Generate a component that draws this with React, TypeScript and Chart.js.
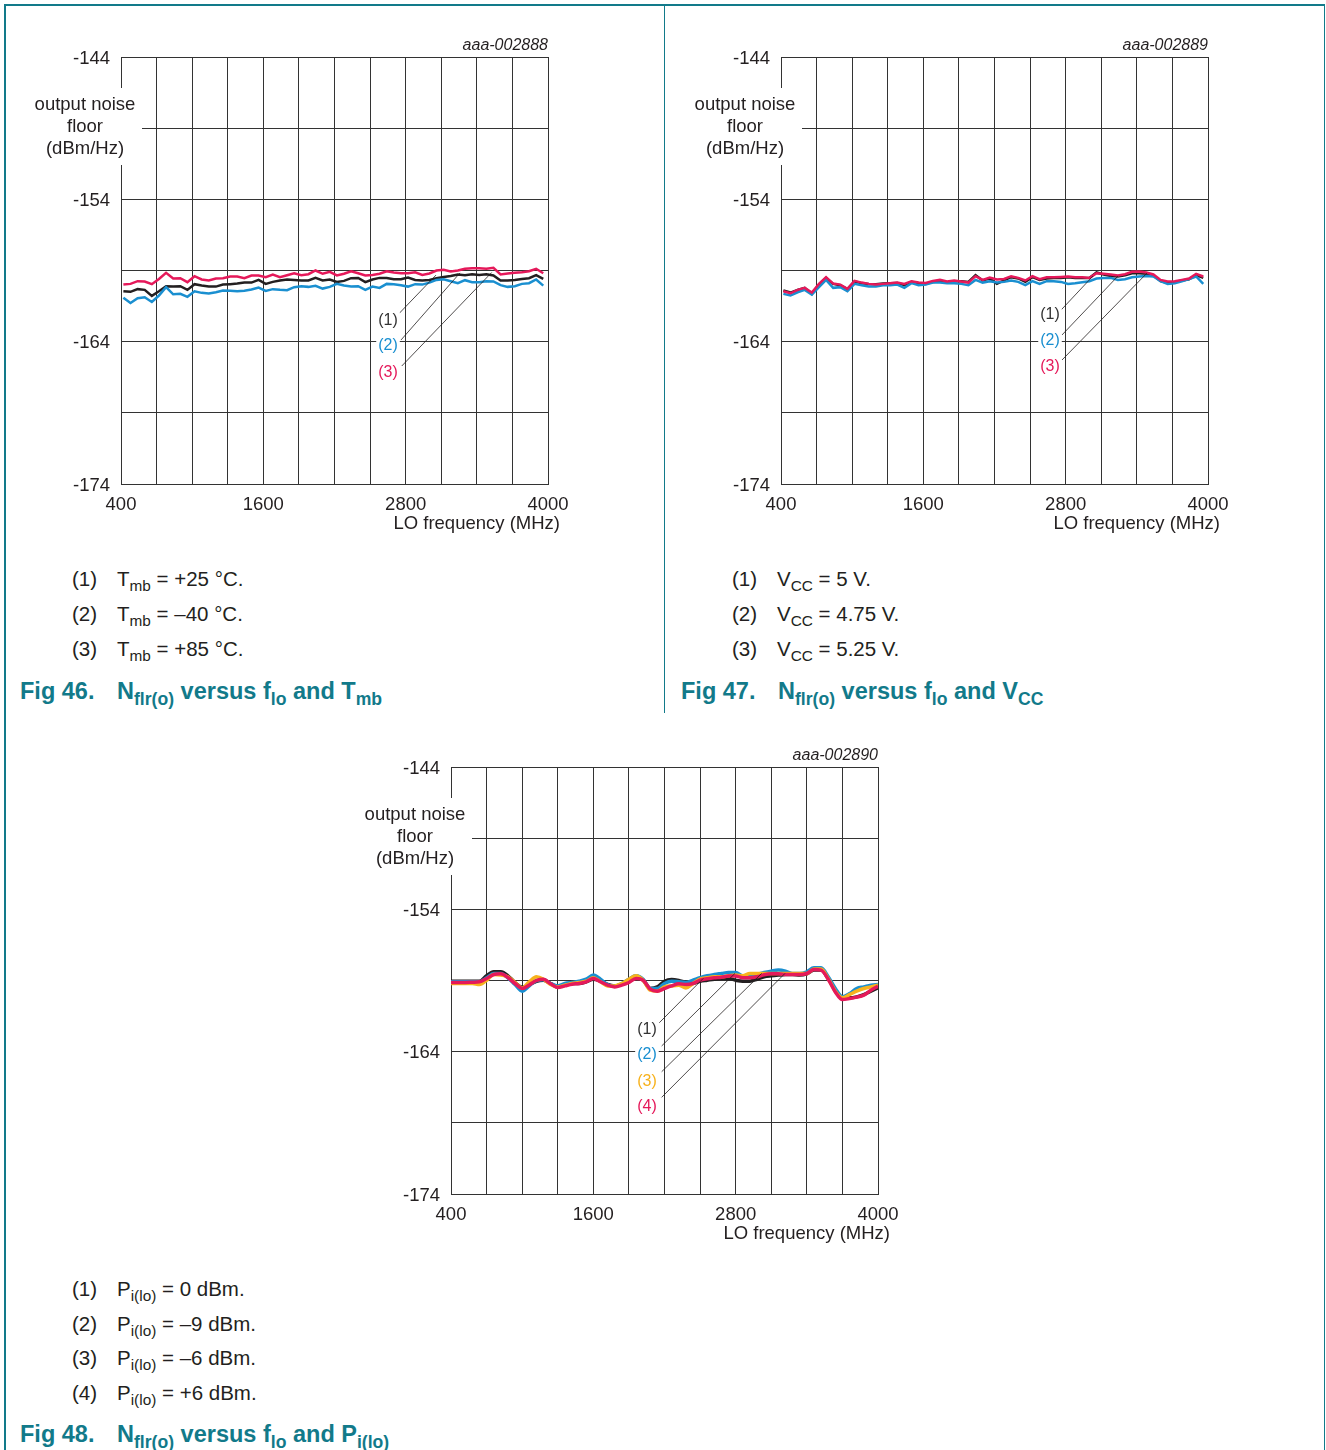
import React, { useEffect, useRef } from 'react';
import { Chart, registerables } from 'chart.js';

Chart.register(...registerables);

const FONT = '"Liberation Sans", Arial, Helvetica, sans-serif';
const TEAL = '#127a8a';
const BLACK = '#231f20';
const BLUE = '#1a8fd0';
const RED = '#e5195a';
const ORANGE = '#f7b21d';
const GRID = '#333333';

// ---------- data ----------
const freqJagged = [420, 480, 540, 600, 660, 720, 780, 840, 900, 960, 1020, 1080, 1140, 1200, 1260, 1320, 1380, 1440, 1500, 1560, 1620, 1680, 1740, 1800, 1860, 1920, 1980, 2040, 2100, 2160, 2220, 2280, 2340, 2400, 2460, 2520, 2580, 2640, 2700, 2760, 2820, 2880, 2940, 3000, 3060, 3120, 3180, 3240, 3300, 3360, 3420, 3480, 3540, 3600, 3660, 3720, 3780, 3840, 3900, 3960];

const freqSmooth = [400, 460, 520, 580, 640, 700, 760, 820, 880, 940, 1000, 1060, 1120, 1180, 1240, 1300, 1360, 1420, 1480, 1540, 1600, 1660, 1720, 1780, 1840, 1900, 1960, 2020, 2080, 2140, 2200, 2260, 2320, 2380, 2440, 2500, 2560, 2620, 2680, 2740, 2800, 2860, 2920, 2980, 3040, 3100, 3160, 3220, 3280, 3340, 3400, 3460, 3520, 3580, 3640, 3700, 3760, 3820, 3880, 3940, 4000];

const xTickLabels = [400, 1600, 2800, 4000];
const yTickLabels = [-144, -154, -164, -174];

// Fig 46: Tmb
const fig46Tmb25 = [-160.46, -160.50, -160.31, -160.36, -160.78, -160.46, -160.10, -160.13, -160.10, -160.36,
  -159.96, -160.06, -160.13, -160.13, -159.99, -159.96, -159.92, -159.85, -159.85, -159.66,
  -159.94, -159.80, -159.70, -159.63, -159.66, -159.70, -159.70, -159.52, -159.70, -159.63,
  -159.80, -159.73, -159.54, -159.52, -159.82, -159.63, -159.52, -159.52, -159.61, -159.61,
  -159.49, -159.66, -159.70, -159.66, -159.54, -159.45, -159.38, -159.28, -159.33, -159.26,
  -159.31, -159.26, -159.35, -159.70, -159.70, -159.66, -159.59, -159.54, -159.33, -159.59];
const fig46TmbM40 = [-160.92, -161.28, -160.95, -160.88, -161.21, -160.76, -160.17, -160.67, -160.64, -160.85,
  -160.46, -160.57, -160.62, -160.53, -160.41, -160.43, -160.46, -160.43, -160.34, -160.20,
  -160.43, -160.31, -160.36, -160.38, -160.17, -160.10, -160.15, -160.08, -160.27, -160.15,
  -159.94, -160.06, -160.13, -160.10, -160.36, -160.13, -160.22, -159.94, -159.96, -160.03,
  -160.13, -159.96, -159.99, -159.85, -159.66, -159.61, -159.75, -159.89, -159.68, -159.82,
  -159.82, -159.75, -159.77, -160.03, -160.15, -160.10, -159.94, -159.89, -159.63, -160.06];
const fig46Tmb85 = [-159.99, -159.94, -159.75, -159.77, -159.96, -159.59, -159.16, -159.56, -159.54, -159.82,
  -159.40, -159.63, -159.70, -159.56, -159.54, -159.42, -159.42, -159.54, -159.35, -159.35,
  -159.47, -159.28, -159.47, -159.33, -159.19, -159.33, -159.26, -159.00, -159.23, -159.09,
  -159.35, -159.23, -159.05, -159.19, -159.35, -159.31, -159.23, -159.05, -159.14, -159.19,
  -159.19, -159.12, -159.31, -159.21, -159.00, -158.95, -159.07, -159.00, -158.88, -158.84,
  -158.84, -158.88, -158.81, -159.28, -159.21, -159.16, -159.12, -159.05, -158.88, -159.19];

// Fig 47: VCC
const fig47Vcc500 = [-160.41, -160.55, -160.36, -160.22, -160.64, -159.99, -159.52, -159.94, -160.03, -160.31,
  -159.77, -159.89, -159.94, -159.96, -159.92, -159.89, -159.87, -160.03, -159.80, -159.89,
  -159.94, -159.80, -159.75, -159.85, -159.75, -159.75, -159.80, -159.33, -159.70, -159.56,
  -159.94, -159.70, -159.47, -159.56, -159.80, -159.47, -159.66, -159.56, -159.52, -159.52,
  -159.47, -159.52, -159.52, -159.52, -159.14, -159.28, -159.38, -159.42, -159.33, -159.19,
  -159.19, -159.23, -159.35, -159.75, -159.87, -159.80, -159.70, -159.61, -159.33, -159.52];
const fig47Vcc475 = [-160.64, -160.76, -160.53, -160.36, -160.69, -160.17, -159.66, -160.22, -160.17, -160.46,
  -159.94, -160.03, -160.13, -160.13, -160.03, -160.03, -159.99, -160.22, -159.89, -160.03,
  -159.99, -159.85, -159.85, -159.89, -159.89, -159.94, -160.03, -159.66, -159.85, -159.75,
  -159.85, -159.80, -159.70, -159.80, -160.03, -159.75, -159.94, -159.75, -159.75, -159.80,
  -159.94, -159.89, -159.82, -159.75, -159.56, -159.52, -159.52, -159.66, -159.61, -159.47,
  -159.42, -159.38, -159.42, -159.75, -159.94, -159.89, -159.75, -159.61, -159.42, -159.94];
const fig47Vcc525 = [-160.46, -160.60, -160.36, -160.22, -160.55, -159.94, -159.47, -159.92, -159.99, -160.29,
  -159.73, -159.85, -159.94, -159.99, -159.94, -159.89, -159.85, -159.94, -159.75, -159.85,
  -159.87, -159.73, -159.66, -159.77, -159.70, -159.77, -159.85, -159.40, -159.66, -159.49,
  -159.63, -159.59, -159.40, -159.52, -159.70, -159.40, -159.61, -159.47, -159.47, -159.45,
  -159.42, -159.47, -159.47, -159.52, -159.19, -159.23, -159.28, -159.35, -159.26, -159.09,
  -159.07, -159.14, -159.28, -159.66, -159.77, -159.75, -159.66, -159.56, -159.23, -159.42];

// Fig 48: Pi(lo)
const fig48P0 = [-159.05, -159.05, -159.05, -159.05, -159.05, -158.67, -158.39, -158.39, -158.67, -159.14,
  -159.47, -159.28, -159.05, -158.98, -159.21, -159.45, -159.33, -159.21, -159.21, -159.09,
  -158.91, -159.05, -159.28, -159.38, -159.28, -158.98, -158.74, -158.98, -159.56, -159.45,
  -159.05, -158.93, -159.00, -159.14, -159.21, -159.05, -158.98, -158.91, -158.86, -158.86,
  -158.98, -159.05, -159.05, -158.91, -158.74, -158.67, -158.62, -158.58, -158.58, -158.62,
  -158.53, -158.27, -158.27, -158.86, -159.68, -160.22, -160.22, -160.15, -159.99, -159.75, -159.52];
const fig48PM9 = [-159.09, -159.09, -159.09, -159.09, -159.09, -158.81, -158.51, -158.51, -158.81, -159.28,
  -159.75, -159.38, -159.00, -158.95, -159.21, -159.38, -159.21, -159.14, -159.05, -158.91,
  -158.62, -158.91, -159.28, -159.40, -159.21, -158.91, -158.67, -158.91, -159.56, -159.56,
  -159.21, -159.05, -159.09, -159.14, -158.98, -158.81, -158.67, -158.58, -158.51, -158.44,
  -158.44, -158.67, -158.67, -158.58, -158.44, -158.34, -158.27, -158.34, -158.51, -158.51,
  -158.39, -158.11, -158.11, -158.74, -159.56, -160.15, -159.92, -159.56, -159.45, -159.33, -159.28];
const fig48PM6 = [-159.21, -159.21, -159.21, -159.21, -159.28, -158.98, -158.58, -158.62, -158.74, -159.14,
  -159.52, -159.09, -158.74, -158.91, -159.28, -159.45, -159.33, -159.21, -159.14, -159.05,
  -158.81, -159.09, -159.38, -159.38, -159.21, -158.91, -158.67, -158.98, -159.68, -159.75,
  -159.45, -159.38, -159.33, -159.52, -159.21, -158.91, -158.81, -158.74, -158.74, -158.67,
  -158.62, -158.67, -158.51, -158.51, -158.51, -158.51, -158.51, -158.51, -158.51, -158.51,
  -158.51, -158.20, -158.20, -158.86, -159.75, -160.22, -159.99, -159.75, -159.56, -159.45, -159.33];
const fig48P6 = [-159.14, -159.14, -159.14, -159.12, -159.09, -158.86, -158.58, -158.53, -158.79, -159.21,
  -159.56, -159.31, -159.00, -158.91, -159.23, -159.49, -159.38, -159.26, -159.21, -159.09,
  -158.86, -159.09, -159.33, -159.45, -159.33, -159.14, -158.86, -158.98, -159.61, -159.75,
  -159.56, -159.38, -159.23, -159.28, -159.21, -158.98, -158.88, -158.81, -158.77, -158.69,
  -158.69, -158.81, -158.81, -158.74, -158.60, -158.53, -158.53, -158.58, -158.58, -158.58,
  -158.51, -158.23, -158.27, -158.91, -159.80, -160.34, -160.27, -160.17, -160.03, -159.68, -159.40];

// annotation callouts (data units: MHz, dBm/Hz)
type Note = { text: string; color: string; lx: number; ly: number; x1: number; y1: number; x2: number; y2: number };
const fig46Notes: Note[] = [
  { text: '(1)', color: '#333333', lx: 2651, ly: -162.41, x1: 2746, y1: -162.01, x2: 3056, y2: -159.32 },
  { text: '(2)', color: BLUE, lx: 2651, ly: -164.16, x1: 2761, y1: -163.88, x2: 3258, y2: -159.17 },
  { text: '(3)', color: RED, lx: 2651, ly: -166.06, x1: 2767, y1: -165.71, x2: 3525, y2: -159.14 },
];
const fig47Notes: Note[] = [
  { text: '(1)', color: '#333333', lx: 2668, ly: -161.99, x1: 2761, y1: -161.78, x2: 3030, y2: -159.39 },
  { text: '(2)', color: BLUE, lx: 2668, ly: -163.81, x1: 2769, y1: -163.53, x2: 3241, y2: -159.39 },
  { text: '(3)', color: RED, lx: 2668, ly: -165.64, x1: 2769, y1: -165.29, x2: 3486, y2: -159.18 },
];
const fig48Notes: Note[] = [
  { text: '(1)', color: '#333333', lx: 2052, ly: -162.34, x1: 2156, y1: -161.97, x2: 2527, y2: -158.85 },
  { text: '(2)', color: BLUE, lx: 2052, ly: -164.09, x1: 2176, y1: -163.60, x2: 2794, y2: -158.50 },
  { text: '(3)', color: ORANGE, lx: 2052, ly: -165.99, x1: 2176, y1: -165.41, x2: 3019, y2: -158.50 },
  { text: '(4)', color: RED, lx: 2052, ly: -167.75, x1: 2176, y1: -167.21, x2: 3216, y2: -158.50 },
];

type Series = { data: number[]; color: string };

type PanelProps = {
  left: number;
  top: number;
  xs: number[];
  series: Series[];
  notes: Note[];
  code: string;
  smooth: boolean;
  lineWidth: number;
};

function ChartPanel({ left, top, xs, series, notes, code, smooth, lineWidth }: PanelProps) {
  const ref = useRef<HTMLCanvasElement>(null);
  useEffect(() => {
    if (!ref.current) return;
    const decor = {
      id: 'decor',
      afterDraw(chart: any) {
        const ctx = chart.ctx as CanvasRenderingContext2D;
        const { left: L, top: T, right: R, bottom: B } = chart.chartArea;
        const xS = chart.scales.x;
        const yS = chart.scales.y;
        ctx.save();
        // gap for y title
        ctx.fillStyle = '#ffffff';
        ctx.fillRect(L - 95, T + 31, 116, 77);
        ctx.fillStyle = '#231f20';
        ctx.font = `18.5px ${FONT}`;
        ctx.textAlign = 'center';
        ctx.textBaseline = 'middle';
        ctx.fillText('output noise', L - 36, T + 47.5);
        ctx.fillText('floor', L - 36, T + 69.5);
        ctx.fillText('(dBm/Hz)', L - 36, T + 91.5);
        // y ticks
        ctx.textAlign = 'right';
        yTickLabels.forEach((v) => ctx.fillText(String(v), L - 11, yS.getPixelForValue(v) + 1.5));
        // x ticks
        ctx.textAlign = 'center';
        xTickLabels.forEach((v) => ctx.fillText(String(v), xS.getPixelForValue(v), B + 20.5));
        // x title
        ctx.textAlign = 'right';
        ctx.fillText('LO frequency (MHz)', R + 12, B + 39.5);
        // code
        ctx.font = `italic 16px ${FONT}`;
        ctx.fillText(code, R, T - 11);
        // callouts
        ctx.strokeStyle = '#231f20';
        ctx.lineWidth = 0.8;
        notes.forEach((n) => {
          ctx.beginPath();
          ctx.moveTo(xS.getPixelForValue(n.x1), yS.getPixelForValue(n.y1));
          ctx.lineTo(xS.getPixelForValue(n.x2), yS.getPixelForValue(n.y2));
          ctx.stroke();
        });
        ctx.font = `16px ${FONT}`;
        ctx.textAlign = 'center';
        notes.forEach((n) => {
          const px = xS.getPixelForValue(n.lx);
          const py = yS.getPixelForValue(n.ly);
          const w = ctx.measureText(n.text).width;
          ctx.fillStyle = '#ffffff';
          ctx.fillRect(px - w / 2 - 2, py - 9, w + 4, 18);
          ctx.fillStyle = n.color;
          ctx.fillText(n.text, px, py + 1.5);
        });
        ctx.restore();
      },
    };
    const chart = new Chart(ref.current, {
      type: 'line',
      data: {
        datasets: series.map((s, i) => ({
          data: xs.map((x, j) => ({ x, y: s.data[j] })),
          borderColor: s.color,
          backgroundColor: s.color,
          borderWidth: lineWidth,
          pointRadius: 0,
          tension: smooth ? 0.4 : 0,
          cubicInterpolationMode: smooth ? 'monotone' : 'default',
          fill: false,
          order: series.length - i,
        })),
      },
      options: {
        animation: false,
        responsive: false,
        maintainAspectRatio: false,
        devicePixelRatio: 1,
        layout: { padding: { left: 117, top: 37, right: 116, bottom: 66 } },
        plugins: { legend: { display: false }, tooltip: { enabled: false } },
        scales: {
          x: {
            type: 'linear',
            min: 400,
            max: 4000,
            ticks: { stepSize: 300, display: false },
            grid: { color: GRID, lineWidth: 1, drawTicks: false },
            border: { display: true, color: GRID, width: 1 },
            afterFit: (s: any) => { s.height = 0; },
          },
          y: {
            type: 'linear',
            min: -174,
            max: -144,
            ticks: { stepSize: 5, display: false },
            grid: { color: GRID, lineWidth: 1, drawTicks: false },
            border: { display: true, color: GRID, width: 1 },
            afterFit: (s: any) => { s.width = 0; },
          },
        },
      } as any,
      plugins: [decor],
    });
    return () => chart.destroy();
  }, []);
  return (
    <canvas
      ref={ref}
      width={660}
      height={530}
      style={{ position: 'absolute', left, top, width: 660, height: 530 }}
    />
  );
}

const subStyle: React.CSSProperties = { fontSize: '0.75em', position: 'relative', top: '0.32em' };

function Sub({ children }: { children: React.ReactNode }) {
  return <span style={subStyle}>{children}</span>;
}

function LegendRow({ x, y, num, children }: { x: number; y: number; num: string; children: React.ReactNode }) {
  return (
    <div style={{ position: 'absolute', left: x, top: y - 13, height: 26, lineHeight: '26px', fontSize: 20.5, color: '#231f20', whiteSpace: 'nowrap' }}>
      <span style={{ position: 'absolute', left: 0 }}>{num}</span>
      <span style={{ position: 'absolute', left: 45 }}>{children}</span>
    </div>
  );
}

function Caption({ x, y, fig, children }: { x: number; y: number; fig: string; children: React.ReactNode }) {
  return (
    <div style={{ position: 'absolute', left: x, top: y - 15, height: 28, lineHeight: '28px', fontSize: 23.5, fontWeight: 'bold', color: TEAL, whiteSpace: 'nowrap' }}>
      <span style={{ position: 'absolute', left: 0 }}>{fig}</span>
      <span style={{ position: 'absolute', left: 97 }}>{children}</span>
    </div>
  );
}

export default function App() {
  return (
    <div style={{ position: 'absolute', left: 0, top: 0, width: 1326, height: 1450, background: '#ffffff', fontFamily: FONT, overflow: 'hidden' }}>
      {/* frame */}
      <div style={{ position: 'absolute', left: 4, top: 4, width: 1321, height: 1.5, background: TEAL }} />
      <div style={{ position: 'absolute', left: 4, top: 4, width: 1.5, height: 1446, background: TEAL }} />
      <div style={{ position: 'absolute', left: 1323.5, top: 4, width: 1.5, height: 1446, background: TEAL }} />
      <div style={{ position: 'absolute', left: 663.5, top: 4, width: 1.5, height: 709, background: TEAL }} />

      <ChartPanel left={4} top={20} xs={freqJagged} code="aaa-002888" smooth={false} lineWidth={2.5}
        series={[{ data: fig46Tmb25, color: BLACK }, { data: fig46TmbM40, color: BLUE }, { data: fig46Tmb85, color: RED }]}
        notes={fig46Notes} />
      <ChartPanel left={664} top={20} xs={freqJagged} code="aaa-002889" smooth={false} lineWidth={2.5}
        series={[{ data: fig47Vcc500, color: BLACK }, { data: fig47Vcc475, color: BLUE }, { data: fig47Vcc525, color: RED }]}
        notes={fig47Notes} />
      <ChartPanel left={334} top={730} xs={freqSmooth} code="aaa-002890" smooth={true} lineWidth={3.5}
        series={[{ data: fig48P0, color: BLACK }, { data: fig48PM9, color: BLUE }, { data: fig48PM6, color: ORANGE }, { data: fig48P6, color: RED }]}
        notes={fig48Notes} />

      {/* Fig 46 legend */}
      <LegendRow x={72} y={579} num="(1)">T<Sub>mb</Sub> = +25 °C.</LegendRow>
      <LegendRow x={72} y={614} num="(2)">T<Sub>mb</Sub> = –40 °C.</LegendRow>
      <LegendRow x={72} y={649} num="(3)">T<Sub>mb</Sub> = +85 °C.</LegendRow>
      <Caption x={20} y={692} fig="Fig 46.">N<Sub>flr(o)</Sub> versus f<Sub>lo</Sub> and T<Sub>mb</Sub></Caption>

      {/* Fig 47 legend */}
      <LegendRow x={732} y={579} num="(1)">V<Sub>CC</Sub> = 5 V.</LegendRow>
      <LegendRow x={732} y={614} num="(2)">V<Sub>CC</Sub> = 4.75 V.</LegendRow>
      <LegendRow x={732} y={649} num="(3)">V<Sub>CC</Sub> = 5.25 V.</LegendRow>
      <Caption x={681} y={692} fig="Fig 47.">N<Sub>flr(o)</Sub> versus f<Sub>lo</Sub> and V<Sub>CC</Sub></Caption>

      {/* Fig 48 legend */}
      <LegendRow x={72} y={1289} num="(1)">P<Sub>i(lo)</Sub> = 0 dBm.</LegendRow>
      <LegendRow x={72} y={1324} num="(2)">P<Sub>i(lo)</Sub> = –9 dBm.</LegendRow>
      <LegendRow x={72} y={1358} num="(3)">P<Sub>i(lo)</Sub> = –6 dBm.</LegendRow>
      <LegendRow x={72} y={1393} num="(4)">P<Sub>i(lo)</Sub> = +6 dBm.</LegendRow>
      <Caption x={20} y={1435} fig="Fig 48.">N<Sub>flr(o)</Sub> versus f<Sub>lo</Sub> and P<Sub>i(lo)</Sub></Caption>
    </div>
  );
}
